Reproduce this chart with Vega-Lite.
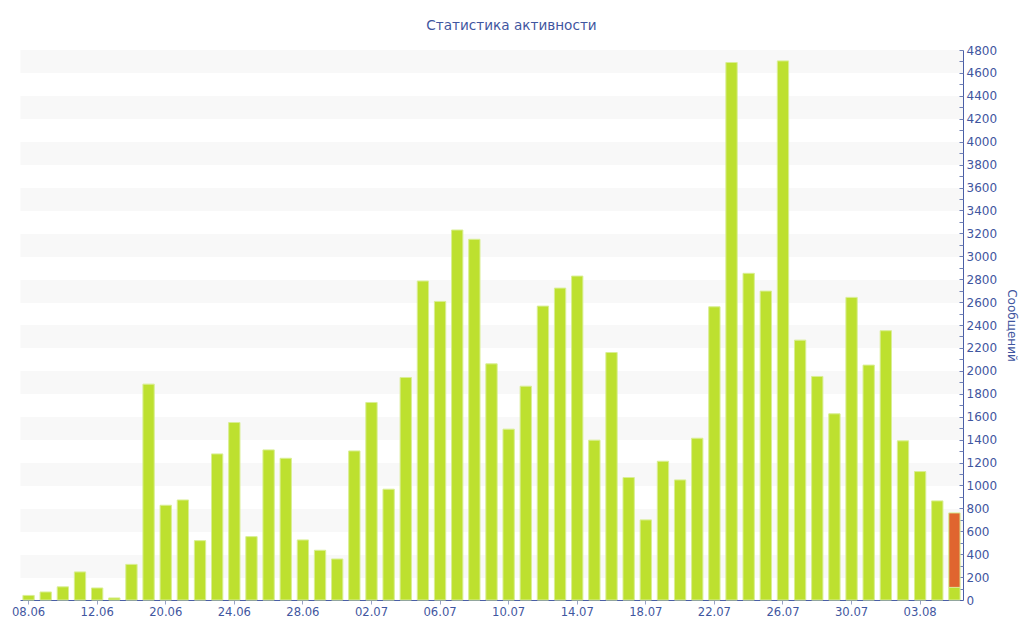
{
  "$schema": "https://vega.github.io/schema/vega-lite/v6.json",
  "autosize": {"type": "none"},
  "padding": {"left": 20, "top": 50, "right": 61, "bottom": 40},
  "width": 943,
  "height": 550,
  "title": {
    "text": "Статистика активности",
    "fontSize": 13.6,
    "fontWeight": "normal",
    "color": "#3f56a0",
    "anchor": "middle",
    "frame": "group",
    "offset": 11,
    "dx": 20
  },
  "config": {
    "font": "DejaVu Sans",
    "view": {"stroke": null}
  },
  "data": {
    "values": [
      {"d": "08.06", "n": 40, "s": "full"},
      {"d": "09.06", "n": 70, "s": "full"},
      {"d": "10.06", "n": 115, "s": "full"},
      {"d": "11.06", "n": 245, "s": "full"},
      {"d": "12.06", "n": 105, "s": "full"},
      {"d": "13.06", "n": 18, "s": "full"},
      {"d": "18.06", "n": 311, "s": "full"},
      {"d": "19.06", "n": 1884, "s": "full"},
      {"d": "20.06", "n": 827, "s": "full"},
      {"d": "21.06", "n": 873, "s": "full"},
      {"d": "22.06", "n": 518, "s": "full"},
      {"d": "23.06", "n": 1275, "s": "full"},
      {"d": "24.06", "n": 1549, "s": "full"},
      {"d": "25.06", "n": 553, "s": "full"},
      {"d": "26.06", "n": 1310, "s": "full"},
      {"d": "27.06", "n": 1237, "s": "full"},
      {"d": "28.06", "n": 524, "s": "full"},
      {"d": "29.06", "n": 434, "s": "full"},
      {"d": "30.06", "n": 358, "s": "full"},
      {"d": "01.07", "n": 1301, "s": "full"},
      {"d": "02.07", "n": 1724, "s": "full"},
      {"d": "03.07", "n": 967, "s": "full"},
      {"d": "04.07", "n": 1942, "s": "full"},
      {"d": "05.07", "n": 2784, "s": "full"},
      {"d": "06.07", "n": 2606, "s": "full"},
      {"d": "07.07", "n": 3229, "s": "full"},
      {"d": "08.07", "n": 3148, "s": "full"},
      {"d": "09.07", "n": 2061, "s": "full"},
      {"d": "10.07", "n": 1491, "s": "full"},
      {"d": "11.07", "n": 1866, "s": "full"},
      {"d": "12.07", "n": 2565, "s": "full"},
      {"d": "13.07", "n": 2722, "s": "full"},
      {"d": "14.07", "n": 2827, "s": "full"},
      {"d": "15.07", "n": 1395, "s": "full"},
      {"d": "16.07", "n": 2160, "s": "full"},
      {"d": "17.07", "n": 1069, "s": "full"},
      {"d": "18.07", "n": 699, "s": "full"},
      {"d": "19.07", "n": 1211, "s": "full"},
      {"d": "20.07", "n": 1048, "s": "full"},
      {"d": "21.07", "n": 1412, "s": "full"},
      {"d": "22.07", "n": 2559, "s": "full"},
      {"d": "23.07", "n": 4691, "s": "full"},
      {"d": "24.07", "n": 2851, "s": "full"},
      {"d": "25.07", "n": 2696, "s": "full"},
      {"d": "26.07", "n": 4705, "s": "full"},
      {"d": "27.07", "n": 2268, "s": "full"},
      {"d": "28.07", "n": 1951, "s": "full"},
      {"d": "29.07", "n": 1625, "s": "full"},
      {"d": "30.07", "n": 2641, "s": "full"},
      {"d": "31.07", "n": 2050, "s": "full"},
      {"d": "01.08", "n": 2350, "s": "full"},
      {"d": "02.08", "n": 1389, "s": "full"},
      {"d": "03.08", "n": 1121, "s": "full"},
      {"d": "04.08", "n": 865, "s": "full"},
      {"d": "05.08", "n": 110, "s": "full"},
      {"d": "05.08", "n": 650, "s": "today"}
    ]
  },
  "resolve": {"axis": {"y": "independent"}},
  "layer": [
    {
      "mark": {"type": "rule", "opacity": 0},
      "encoding": {
        "y": {
          "datum": 0,
          "type": "quantitative",
          "scale": {"domain": [0, 4800], "nice": false},
          "axis": {
            "orient": "left",
            "values": [300, 700, 1100, 1500, 1900, 2300, 2700, 3100, 3500, 3900, 4300, 4700],
            "grid": true,
            "gridColor": "#f8f8f8",
            "gridWidth": 22.9,
            "labels": false,
            "ticks": false,
            "domain": false,
            "title": null
          }
        }
      }
    },
    {
      "mark": {"type": "bar", "stroke": "#d9ee94", "strokeWidth": 1},
      "encoding": {
        "x": {
          "field": "d",
          "type": "ordinal",
          "sort": null,
          "scale": {"paddingInner": 0.34, "paddingOuter": 0.17},
          "axis": {
            "values": ["08.06", "12.06", "20.06", "24.06", "28.06", "02.07", "06.07", "10.07", "14.07", "18.07", "22.07", "26.07", "30.07", "03.08"],
            "labelAngle": 0,
            "labelFontSize": 11.6,
            "labelColor": "#3f56a0",
            "labelPadding": 2,
            "tickSize": 4,
            "tickColor": "#9aa3c6",
            "domainColor": "#4a5ea6",
            "title": null
          }
        },
        "y": {
          "field": "n",
          "type": "quantitative",
          "scale": {"domain": [0, 4800], "nice": false},
          "axis": {
            "orient": "right",
            "values": [0, 200, 400, 600, 800, 1000, 1200, 1400, 1600, 1800, 2000, 2200, 2400, 2600, 2800, 3000, 3200, 3400, 3600, 3800, 4000, 4200, 4400, 4600, 4800],
            "format": "d",
            "grid": false,
            "ticks": false,
            "labelPadding": 3,
            "labelFontSize": 12,
            "labelColor": "#3f56a0",
            "domainColor": "#4a5ea6",
            "title": "Сообщений",
            "titleFontSize": 12,
            "titleFontWeight": "normal",
            "titleColor": "#3f56a0",
            "titleAngle": 90,
            "titlePadding": 8
          }
        },
        "color": {
          "field": "s",
          "type": "nominal",
          "scale": {"domain": ["full", "today"], "range": ["#bde02f", "#e0652f"]},
          "legend": null
        },
        "order": {"field": "s"}
      }
    },
    {
      "mark": {"type": "rule", "opacity": 0},
      "encoding": {
        "y": {
          "datum": 0,
          "type": "quantitative",
          "axis": {
            "orient": "right",
            "values": [100, 200, 300, 400, 500, 600, 700, 800, 900, 1000, 1100, 1200, 1300, 1400, 1500, 1600, 1700, 1800, 1900, 2000, 2100, 2200, 2300, 2400, 2500, 2600, 2700, 2800, 2900, 3000, 3100, 3200, 3300, 3400, 3500, 3600, 3700, 3800, 3900, 4000, 4100, 4200, 4300, 4400, 4500, 4600, 4700, 4800],
            "grid": false,
            "labels": false,
            "domain": false,
            "tickSize": -4,
            "tickColor": "#6f7fb5",
            "title": null
          }
        }
      }
    }
  ]
}
